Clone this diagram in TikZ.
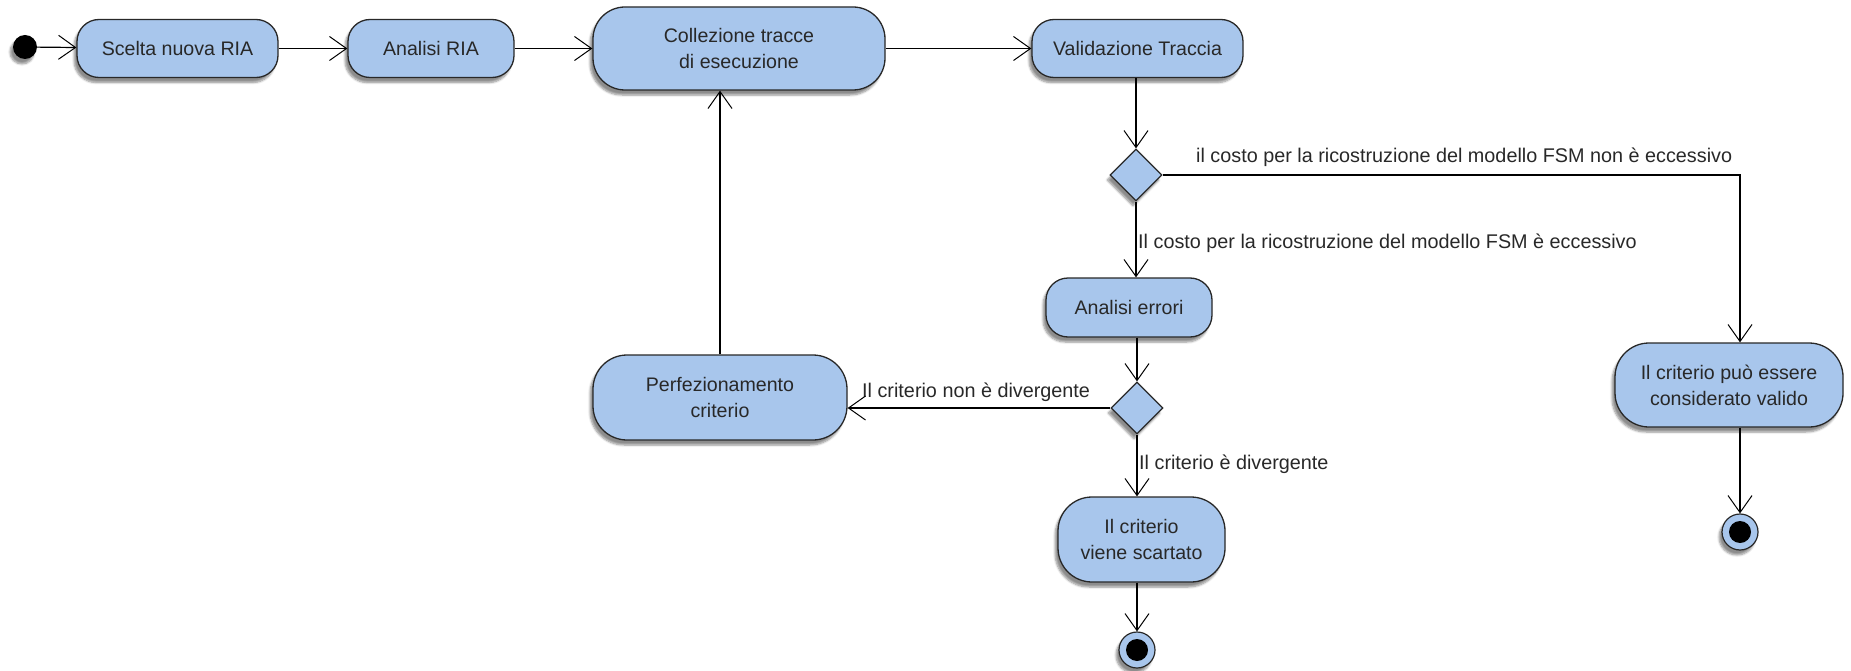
\documentclass[tikz,border=0pt]{standalone}
\usepackage{fontspec}
\setmainfont{Liberation Sans}
\usetikzlibrary{arrows.meta,shapes.geometric,shadows.blur}
\definecolor{actfill}{RGB}{168,198,236}
\definecolor{actline}{RGB}{40,40,40}
\definecolor{txt}{RGB}{40,40,40}
\tikzset{
  shd/.style={blur shadow={shadow xshift=-3pt,shadow yshift=-5pt,shadow blur steps=6,shadow opacity=45}},
  act/.style={draw=actline,line width=1.3pt,fill=actfill,shd,align=center,text=txt,
    font=\fontsize{19.6}{26}\selectfont,inner sep=0pt},
  dec/.style={diamond,draw=actline,line width=1.2pt,fill=actfill,shd,inner sep=0pt,
    minimum width=52pt,minimum height=52pt},
  lbl/.style={text=txt,font=\fontsize{19.8}{24}\selectfont,inner sep=0pt},
  flow/.style={line width=1.2pt,draw=black,-{Straight Barb[length=17pt,width=24pt,line width=1pt]}},
}
\begin{document}
\begin{tikzpicture}[x=1pt,y=-1pt]
\useasboundingbox (0,0) rectangle (1851,671);
% initial
\node[circle,fill=black,minimum size=24pt,inner sep=0pt,shd] (init) at (25,47) {};
% activities
\node[act,minimum width=201pt,minimum height=58pt,rounded corners=22pt] (scelta) at (177.5,48.5) {Scelta nuova RIA};
\node[act,minimum width=166pt,minimum height=58pt,rounded corners=22pt] (anria) at (431,48.5) {Analisi RIA};
\node[act,minimum width=292pt,minimum height=83pt,rounded corners=32pt] (coll) at (739,48.5) {Collezione tracce\\di esecuzione};
\node[act,minimum width=211pt,minimum height=58pt,rounded corners=22pt] (valid) at (1137.5,48.5) {Validazione Traccia};
\node[dec] (d1) at (1136,175) {};
\node[act,minimum width=166pt,minimum height=59pt,rounded corners=22pt] (aerr) at (1129,307.5) {Analisi errori};
\node[dec] (d2) at (1137,408) {};
\node[act,minimum width=254pt,minimum height=85pt,rounded corners=34pt] (perf) at (720,397.5) {Perfezionamento\\criterio};
\node[act,minimum width=167pt,minimum height=85pt,rounded corners=34pt] (scart) at (1141.5,539.5) {Il criterio\\viene scartato};
\node[act,minimum width=228pt,minimum height=84pt,rounded corners=34pt] (pos) at (1729,385) {Il criterio può essere\\considerato valido};
% final nodes
\node[circle,draw=actline,line width=1.2pt,fill=actfill,minimum size=36pt,inner sep=0pt,shd] (end1) at (1137,650) {};
\node[circle,fill=black,minimum size=22pt,inner sep=0pt] at (end1) {};
\node[circle,draw=actline,line width=1.2pt,fill=actfill,minimum size=36pt,inner sep=0pt,shd] (end2) at (1740,532) {};
\node[circle,fill=black,minimum size=22pt,inner sep=0pt] at (end2) {};
% labels
\node[lbl,anchor=west] (l1) at (1196,157) {il costo per la ricostruzione del modello FSM non è eccessivo};
\node[lbl,anchor=west] (l2) at (1138,243) {Il costo per la ricostruzione del modello FSM è eccessivo};
\node[lbl,anchor=west] (l3) at (862,392) {Il criterio non è divergente};
\node[lbl,anchor=west] (l4) at (1139,464) {Il criterio è divergente};
% flows
\draw[flow] (init) -- (scelta);
\draw[flow] (scelta) -- (anria);
\draw[flow] (anria) -- (coll);
\draw[flow] (coll) -- (valid);
\draw[flow] (valid.south -| d1) -- (d1.north);
\draw[flow] (d1.east) -| (end2 |- pos.north);
\draw[flow] (d1.south) -- (d1.south |- aerr.north);
\draw[flow] (aerr.south -| d2) -- (d2.north);
\draw[flow] (d2.west) -- (d2.west -| perf.east);
\draw[flow] (d2.south) -- (d2.south |- scart.north);
\draw[flow] (scart.south -| end1) -- (end1.north);
\draw[flow] (perf.north) -- (perf.north |- coll.south);
\draw[flow] (pos.south -| end2) -- (end2.north);
\end{tikzpicture}
\end{document}
